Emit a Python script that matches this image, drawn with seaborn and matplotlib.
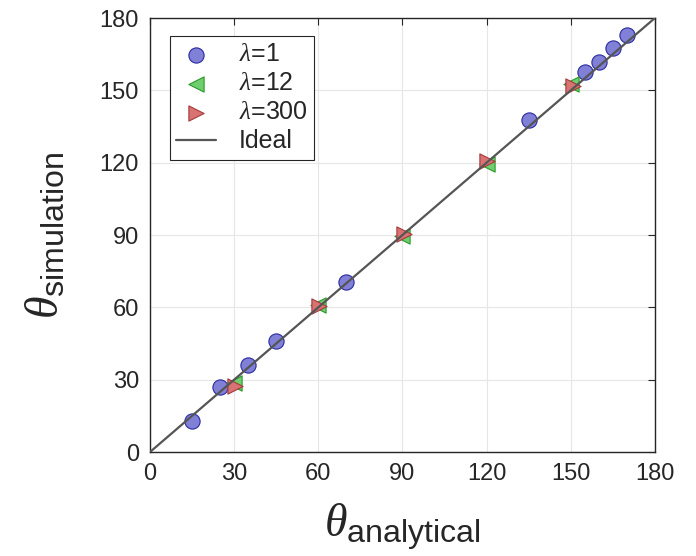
import matplotlib
matplotlib.use("Agg")
import matplotlib.pyplot as plt
import seaborn as sns
import pandas as pd

# data
x_l1 = [15, 25, 35, 45, 70, 135, 155, 160, 165, 170]
y_l1 = [13, 27, 36, 46, 70.5, 137.7, 157.6, 161.8, 167.6, 173]
x_l12 = [30, 60, 90, 120, 150]
y_l12 = [28.6, 60.8, 89.6, 119.4, 152.6]
x_l300 = [30.3, 60.4, 90.6, 120.1, 150.9]
y_l300 = [27.2, 60.6, 90.3, 120.6, 151.6]
ideal = [0, 180]
ticks = [0, 30, 60, 90, 120, 150, 180]

sns.set_style("whitegrid", {"grid.color": "#e6e6e6", "axes.edgecolor": "#262626"})
plt.rcParams['font.family'] = ['Liberation Sans', 'DejaVu Sans']
plt.rcParams['mathtext.fontset'] = 'custom'
plt.rcParams['mathtext.it'] = 'Liberation Serif:italic'
plt.rcParams['mathtext.rm'] = 'Liberation Sans'

fig = plt.figure(figsize=(6.96, 5.56), dpi=100)
ax = fig.add_axes([0.2155, 0.187, 0.7255, 0.7806])

sns.scatterplot(x=x_l1, y=y_l1, ax=ax, marker='o', s=120, color='#7f80d6',
                edgecolor='#2b2ba0', linewidth=0.8, label=r'$\lambda$=1', zorder=3)
sns.scatterplot(x=x_l12, y=y_l12, ax=ax, marker='<', s=120, color='#6fcf6f',
                edgecolor='#2a9a2a', linewidth=0.8, label=r'$\lambda$=12', zorder=3)
sns.scatterplot(x=x_l300, y=y_l300, ax=ax, marker='>', s=120, color='#d97272',
                edgecolor='#a53a3a', linewidth=0.8, label=r'$\lambda$=300', zorder=4)
sns.lineplot(x=ideal, y=ideal, ax=ax, color='#555555', linewidth=1.6, label='Ideal', zorder=5)

ax.set_xlim(0, 180)
ax.set_ylim(0, 180)
ax.set_xticks(ticks)
ax.set_yticks(ticks)
ax.tick_params(axis='both', which='both', direction='in', length=5, width=0.8,
               top=True, right=True, labelsize=17, colors='#262626', pad=8)
for sp in ax.spines.values():
    sp.set_linewidth(1.0)
    sp.set_color('#262626')

ax.set_xlabel(r'$\theta_{\mathrm{analytical}}$', fontsize=33, labelpad=12)
ax.set_ylabel(r'$\theta_{\mathrm{simulation}}$', fontsize=33, labelpad=22)

leg = ax.legend(loc='upper left', bbox_to_anchor=(0.03, 0.97), fontsize=18,
                frameon=True, fancybox=False, framealpha=1, edgecolor='#262626',
                handlelength=1.6, borderpad=0.25, labelspacing=0.2, handletextpad=0.9,
                borderaxespad=0.2)
leg.get_frame().set_linewidth(0.8)

fig.savefig("out.png", dpi=100)
